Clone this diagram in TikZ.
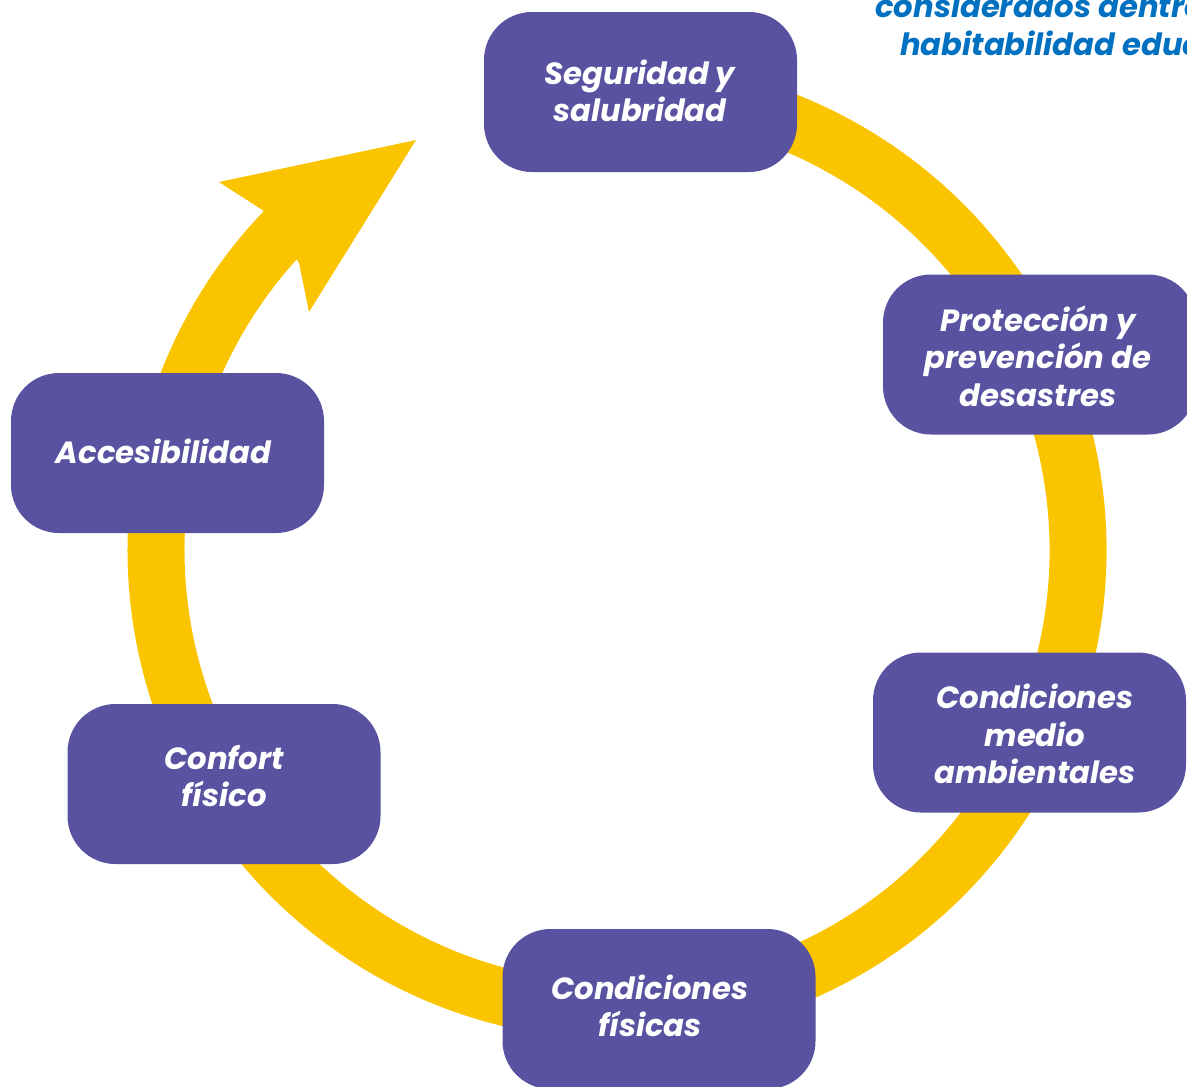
\documentclass[tikz,border=0pt]{standalone}
\usepackage{fontspec}
\setmainfont{Poppins}
\usetikzlibrary{calc}
\definecolor{boxpurple}{HTML}{5852A0}
\definecolor{ringyellow}{HTML}{FBC400}
\definecolor{titleblue}{HTML}{0070C0}
\tikzset{
  box/.style={draw=none, fill=boxpurple, rounded corners=36pt,
    minimum width=234.75pt, minimum height=120pt, inner sep=0pt},
  boxtext/.style={text=white, align=center,
    font=\fontsize{23}{28}\selectfont\bfseries\itshape},
  titletext/.style={text=titleblue, anchor=base west, inner sep=0pt,
    font=\fontsize{23}{28}\selectfont\bfseries\itshape},
}
\begin{document}
\begin{tikzpicture}[x=0.75pt,y=-0.75pt]
\useasboundingbox (0,0) rectangle (1187,1086);
\clip (0,0) rectangle (1187,1086);
% title fragment
\node[titletext] (t1) at (875,17) {considerados dentro};
\node[titletext] (t2) at (900,55) {habitabilidad educativa};
% ring
\coordinate (c) at (617,550);
\draw[ringyellow, line width=42.75pt] ($(c)+(-100:461)$) arc[start angle=-100, end angle=228, radius=461];
% arrow head
\fill[ringyellow] (416,140) -- (219,182) -- (267,213) -- (299,263) -- (309,312) -- cycle;
% boxes
\node[box] (seg) at (640.5,92) {};
\node[boxtext] (segt) at (640,91) {Seguridad y\\salubridad};
\node[box] (pro) at (1039.5,354.5) {};
\node[boxtext] (prot) at (1038,356) {Protección y\\prevención de\\desastres};
\node[box] (med) at (1029.5,732.5) {};
\node[boxtext] (medt) at (1035,734) {Condiciones\\medio\\ambientales};
\node[box] (fis) at (659,1009) {};
\node[boxtext] (fist) at (650,1006) {Condiciones\\físicas};
\node[box] (con) at (224,784) {};
\node[boxtext] (cont) at (224,776) {Confort\\físico};
\node[box] (acc) at (167.5,453) {};
\node[boxtext] (acct) at (163.5,451) {Accesibilidad};
\end{tikzpicture}
\end{document}
